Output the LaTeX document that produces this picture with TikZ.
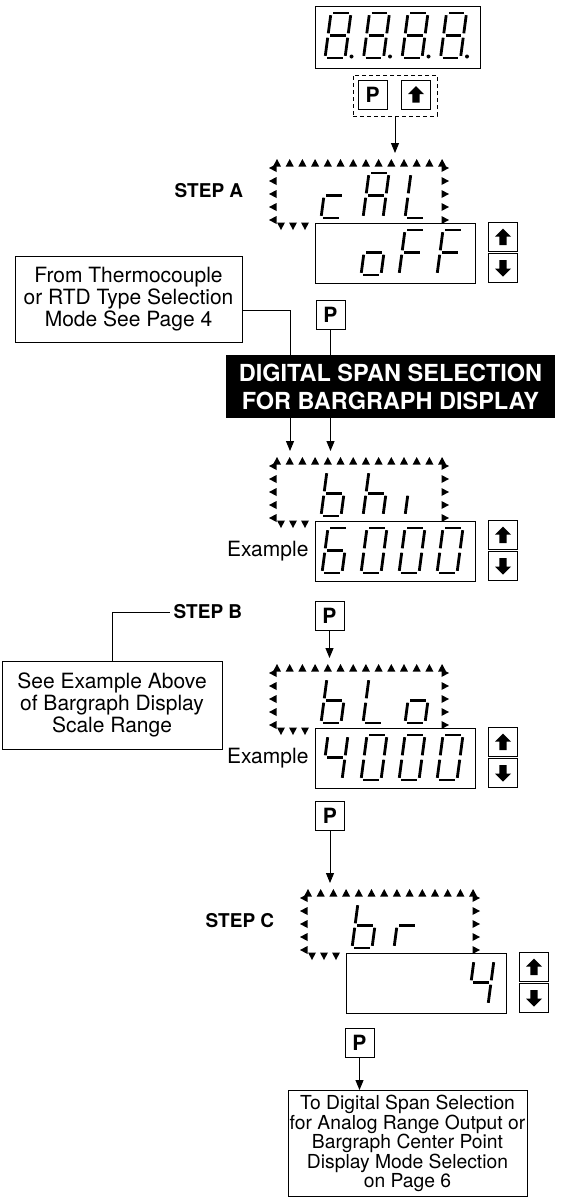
\documentclass[tikz,border=0pt]{standalone}
\usepackage{fontspec}
\setmainfont{TeX Gyre Heros}
\usetikzlibrary{arrows.meta,positioning,calc}
\tikzset{
  >={Triangle[length=10pt,width=8pt]},
  seg/.style={line width=2.8pt, shorten <=2.2pt, shorten >=2.2pt},
  keybox/.style={draw, line width=1pt, minimum size=29pt, inner sep=0pt,
    font=\fontsize{21}{21}\selectfont\bfseries},
  valbox/.style={draw, line width=1pt, minimum width=160pt, minimum height=60pt,
    inner sep=0pt, anchor=north west},
  notebox/.style={draw, line width=1pt, align=center, inner sep=0pt,
    font=\fontsize{21}{21.7}\selectfont},
  steplabel/.style={font=\fontsize{19}{20}\selectfont\bfseries},
  flow/.style={line width=1pt, ->},
}
% one seven segment character, #1 x, #2 baseline, #3 segments
\newcommand\segchar[3]{%
  \begin{scope}[shift={(#1,#2)}]
    \coordinate (sa1) at (6,-45);   \coordinate (sa2) at (26,-45);
    \coordinate (sb1) at (26,-45);  \coordinate (sb2) at (23,-22.5);
    \coordinate (sc1) at (23,-22.5); \coordinate (sc2) at (20,0);
    \coordinate (sd1) at (0,0);     \coordinate (sd2) at (20,0);
    \coordinate (se1) at (3,-22.5); \coordinate (se2) at (0,0);
    \coordinate (sf1) at (6,-45);   \coordinate (sf2) at (3,-22.5);
    \coordinate (sg1) at (3,-22.5); \coordinate (sg2) at (23,-22.5);
    \foreach \s in {#3} \draw[seg] (s\s1) -- (s\s2);
  \end{scope}}
\newcommand\segdot[2]{\fill (#1+26.5,#2-1.5) circle (2);}
\newcommand\uparrowglyph[1]{\fill (#1.center) ++(0,-8.5) -- ++(8,8) -- ++(-4.3,0)
  -- ++(0,8.5) -- ++(-7.4,0) -- ++(0,-8.5) -- ++(-4.3,0) -- cycle;}
\newcommand\dnarrowglyph[1]{\fill (#1.center) ++(0,8.5) -- ++(8,-8) -- ++(-4.3,0)
  -- ++(0,-8.5) -- ++(-7.4,0) -- ++(0,8.5) -- ++(-4.3,0) -- cycle;}
% flashing mode frame with value box and keys, #1 name, #2 x, #3 y
\newcommand\modeframe[3]{%
  \node[inner sep=0pt, minimum width=180pt, minimum height=74pt, anchor=north west]
    (#1) at (#2-4,#3-10) {};
  \foreach \k in {0,...,13}
    \fill (#2+4+12.7*\k,#3) ++(-4,3.5) -- ++(4,-7.5) -- ++(4,7.5) -- cycle;
  \foreach \k in {0,...,4}{
    \fill (#2,#3+5+13*\k) ++(3.5,-4) -- ++(-7.5,4) -- ++(7.5,4) -- cycle;
    \fill (#2+172,#3+5+13*\k) ++(-3.5,-4) -- ++(7.5,4) -- ++(-7.5,4) -- cycle;}
  \foreach \k in {0,1,2}
    \fill (#2+8+12*\k,#3+63) ++(-4,-3.5) -- ++(4,7.5) -- ++(4,-7.5) -- cycle;
  \node[valbox] (#1-val) at (#2+42,#3+60) {};
  \node[keybox, anchor=north west] (#1-up) at (#2+215,#3+59) {};
  \node[keybox, anchor=south west] (#1-dn) at (#2+215,#3+120) {};
  \uparrowglyph{#1-up}\dnarrowglyph{#1-dn}}

\begin{document}
\begin{tikzpicture}[x=1pt, y=-1pt, line width=1pt]
\useasboundingbox (0,0) rectangle (571,1203);

\node[draw, minimum width=165pt, minimum height=62pt, inner sep=0pt, anchor=north west]
  (disp) at (315,6) {};
\foreach \xo in {325,363.5,402,440.5}{\segchar{\xo}{58}{a,b,c,d,e,f,g}\segdot{\xo}{58}}
\node[draw, dash pattern=on 4pt off 3pt, minimum width=84pt, minimum height=41pt,
  inner sep=0pt] (keys) at (395,95.5) {};
\node[keybox] (p0) at (372.5,94.5) {P};
\node[keybox] (up0) at (416,94.5) {};
\uparrowglyph{up0}

% step A
\modeframe{frA}{273}{163}
\segchar{321}{218}{g,e,d}
\segchar{363}{218}{a,b,c,e,f,g}
\segchar{405}{218}{f,e,d}
\segchar{361}{275}{g,c,d,e}
\segchar{399}{275}{a,f,e,g}
\segchar{437}{275}{a,f,e,g}
\node[steplabel, left=22pt of frA] (stepA) {STEP A};
\node[keybox] (pA) at (330.5,315) {P};

\node[notebox, minimum width=227pt, minimum height=86pt] (thermo) at (128.5,299)
  {From Thermocouple\\or RTD Type Selection\\Mode See Page 4};
\coordinate (jn) at (290,310);

% bargraph high
\modeframe{frB}{273}{461}
\segchar{321}{516}{f,e,d,c,g}
\segchar{363}{516}{f,e,g,c}
\segchar{405}{516}{e}
\segchar{322}{573}{a,f,e,d,c,g}
\segchar{361}{573}{a,b,c,d,e,f}
\segchar{399}{573}{a,b,c,d,e,f}
\segchar{437}{573}{a,b,c,d,e,f}
\node[notebox, draw=none, left=6pt of frB-val] (exB) {Example};

\draw[flow] (keys.south) -- (keys.south |- frA.north);
\draw[flow] (pA.south) -- (pA.south |- frB.north);
\draw[flow] (thermo.east |- jn) -- (jn) -- (jn |- frB.north);

\node[fill=black, text=white, align=center, inner sep=0pt, minimum width=329pt,
  minimum height=63pt, font=\fontsize{23.5}{28}\selectfont\bfseries] (span)
  at (390.5,386.5) {DIGITAL SPAN SELECTION\\FOR BARGRAPH DISPLAY};

% step B
\node[keybox] (pB) at (329.5,615.5) {P};
\node[steplabel, anchor=east] (stepB) at (246,612) {STEP B};
\node[notebox, minimum width=220pt, minimum height=88pt] (seeex) at (112,705)
  {See Example Above\\of Bargraph Display\\Scale Range};
\draw (stepB.west) -| (seeex.north);

% bargraph low
\modeframe{frC}{273}{668}
\segchar{321}{723}{f,e,d,c,g}
\segchar{363}{723}{f,e,d}
\segchar{405}{723}{g,c,d,e}
\segchar{322}{780}{f,g,b,c}
\segchar{361}{780}{a,b,c,d,e,f}
\segchar{399}{780}{a,b,c,d,e,f}
\segchar{437}{780}{a,b,c,d,e,f}
\node[notebox, draw=none, left=6pt of frC-val] (exC) {Example};
\draw[flow] (pB.south) -- (pB.south |- frC.north);

% step C
\node[keybox] (pC) at (330,815.5) {P};
\modeframe{frD}{304}{893}
\segchar{352}{948}{f,e,d,c,g}
\segchar{394}{948}{e,g}
\segchar{468}{1005}{f,g,b,c}
\node[steplabel, left=22pt of frD] (stepC) {STEP C};
\draw[flow] (pC.south) -- (pC.south |- frD.north);

\node[keybox] (pD) at (359.5,1042.5) {P};
\node[notebox, minimum width=239pt, minimum height=106pt, anchor=north,
  font=\fontsize{19.3}{18}\selectfont] (tobox) at (407.5,1090)
  {To Digital Span Selection\\for Analog Range Output or\\Bargraph Center Point\\Display Mode Selection\\on Page 6};
\draw[flow] (pD.south) -- (pD.south |- tobox.north);
\end{tikzpicture}
\end{document}
